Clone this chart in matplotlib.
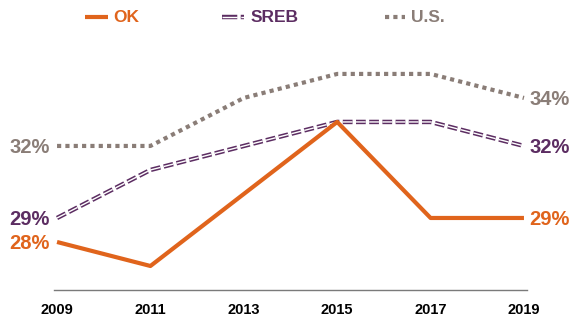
import matplotlib
matplotlib.use("Agg")
import matplotlib.pyplot as plt
from matplotlib.lines import Line2D

plt.rcParams['font.family'] = ['Liberation Sans', 'DejaVu Sans']
plt.rcParams['lines.scale_dashes'] = False

years = [2009, 2011, 2013, 2015, 2017, 2019]
ok = [28, 27, 30, 33, 29, 29]
sreb = [29, 31, 32, 33, 33, 32]
us = [32, 32, 34, 35, 35, 34]

c_ok = '#E0641C'
c_sreb = '#5C2D62'
c_us = '#8A7D77'

fig = plt.figure(figsize=(5.71, 3.2), dpi=100)
ax = fig.add_axes([54 / 571, 1 - 290 / 320, 473 / 571, 260 / 320])

# U.S. - square dots
ax.plot(years, us, color=c_us, lw=3, dashes=(3, 3), dash_capstyle='butt', zorder=2)
# SREB - double dashed line: thick purple with a thin white core
ax.plot(years, sreb, color=c_sreb, lw=3.2, dashes=(7, 2.5), dash_capstyle='butt', zorder=3)
ax.plot(years, sreb, color='white', lw=1.0, dashes=(7, 2.5), dash_capstyle='butt', zorder=4)
# OK - solid
ax.plot(years, ok, color=c_ok, lw=3, solid_capstyle='butt', zorder=5)

ax.set_xlim(years[0] - 0.065, years[-1] + 0.065)
ax.set_ylim(26, 36.83)
for s in ['top', 'right', 'left']:
    ax.spines[s].set_visible(False)
ax.spines['bottom'].set_color('#7a7a7a')
ax.spines['bottom'].set_linewidth(1.0)
ax.set_yticks([])
ax.set_xticks(years)
ax.set_xticklabels([str(y) for y in years], fontsize=10.5, fontweight='bold')
ax.tick_params(axis='x', length=0, pad=9.5)

# end labels
lab = dict(fontsize=14.5, fontweight='bold', va='center')
for vals, col in [(us, c_us), (sreb, c_sreb), (ok, c_ok)]:
    ax.annotate(f'{vals[0]}%', (years[0], vals[0]), xytext=(-5, -1.2),
                textcoords='offset points', ha='right', color=col, **lab,
                annotation_clip=False)
    ax.annotate(f'{vals[-1]}%', (years[-1], vals[-1]), xytext=(4, -1.2),
                textcoords='offset points', ha='left', color=col, **lab,
                annotation_clip=False)

# legend across the top
ly = 1 - 17 / 320
leg = [('OK', c_ok, 85, 113), ('SREB', c_sreb, 222, 251), ('U.S.', c_us, 385, 411)]
for name, col, x0, xt in leg:
    if name == 'OK':
        fig.add_artist(Line2D([x0 / 571, (x0 + 23) / 571], [ly, ly], color=col, lw=3,
                              solid_capstyle='butt'))
    elif name == 'SREB':
        for c, w in [(col, 3.2), ('white', 1.0)]:
            fig.add_artist(Line2D([x0 / 571, (x0 + 22) / 571], [ly, ly], color=c, lw=w,
                                  dashes=(11, 2.5), dash_capstyle='butt'))
    else:
        fig.add_artist(Line2D([x0 / 571, (x0 + 20) / 571], [ly, ly], color=col, lw=3,
                              dashes=(3, 3), dash_capstyle='butt'))
    fig.text(xt / 571, ly - 0.003, name, color=col, fontsize=12.5, fontweight='bold',
             va='center')

fig.savefig('out.png', dpi=100)
